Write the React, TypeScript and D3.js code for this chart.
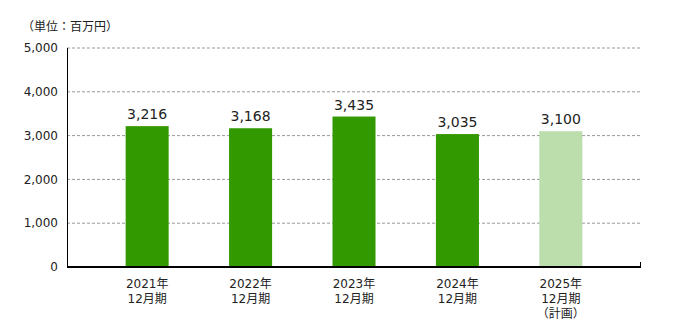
import React from "react";
import * as d3 from "d3";

const categories = ["2021年\n12月期", "2022年\n12月期", "2023年\n12月期", "2024年\n12月期", "2025年\n12月期\n（計画）"];
const values = [3216, 3168, 3435, 3035, 3100];
const planned = [false, false, false, false, true];
const yTicks = [0, 1000, 2000, 3000, 4000, 5000];
const unitLabel = "（単位：百万円）";

const W = 680, H = 323;
const left = 67, right = 641, top = 48, bottom = 267;
const font = "Verdana, 'DejaVu Sans', 'Noto Sans CJK JP', sans-serif";

export default function App() {
  const x = d3.scaleBand<number>().domain(d3.range(categories.length)).range([left, right]).paddingInner(0.584).paddingOuter(0.567);
  const y = d3.scaleLinear().domain([0, 5000]).range([bottom, top]);
  const fmt = d3.format(",");
  return (
    <svg width={W} height={H} style={{ position: "absolute", left: 0, top: 0 }} fontFamily={font}>
      <rect width={W} height={H} fill="#fff" />
      <text x={22} y={31} fontSize={12} fill="#222">{unitLabel}</text>
      {yTicks.map((t) => (
        <g key={t}>
          {t > 0 && <line x1={left} x2={right} y1={y(t)} y2={y(t)} stroke="#999" strokeDasharray="3,2" strokeWidth={1} />}
          <text x={58} y={y(t)} dy="0.35em" textAnchor="end" fontSize={12} fill="#222">{fmt(t)}</text>
        </g>
      ))}
      {values.map((v, i) => (
        <g key={i}>
          <rect x={x(i)} y={y(v)} width={x.bandwidth()} height={bottom - y(v)} fill={planned[i] ? "#bcdeac" : "#339900"} />
          <text x={(x(i) as number) + x.bandwidth() / 2} y={y(v) - 7} textAnchor="middle" fontSize={14} fill="#222">{fmt(v)}</text>
          {categories[i].split("\n").map((line, j) => (
            <text key={j} x={(x(i) as number) + x.bandwidth() / 2} y={288 + j * 15} textAnchor="middle" fontSize={12} fill="#222">{line}</text>
          ))}
        </g>
      ))}
      <line x1={left + 0.5} x2={left + 0.5} y1={top} y2={bottom} stroke="#000" strokeWidth={1} />
      <line x1={right - 0.5} x2={right - 0.5} y1={bottom - 5} y2={bottom} stroke="#000" strokeWidth={1} />
      <line x1={left} x2={right} y1={bottom} y2={bottom} stroke="#000" strokeWidth={2} />
    </svg>
  );
}
